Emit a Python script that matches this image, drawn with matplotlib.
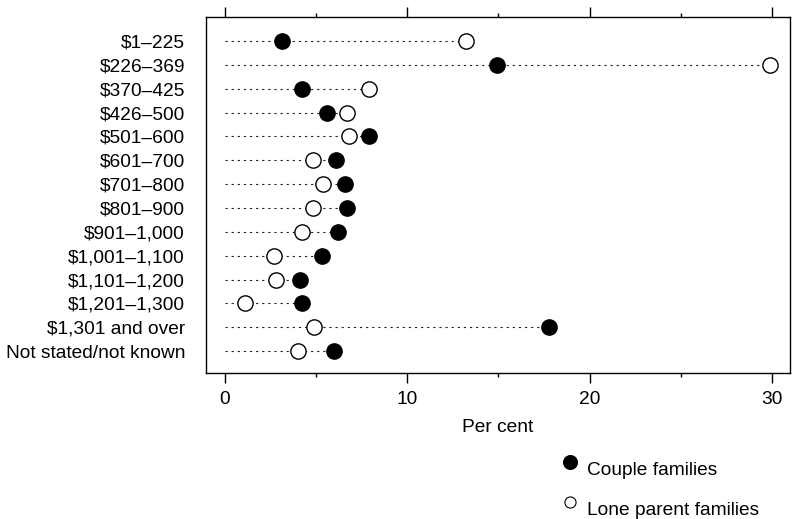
import numpy as np
import matplotlib.pyplot as plt
from matplotlib.lines import Line2D

plt.rcParams['font.family'] = ['Liberation Sans', 'DejaVu Sans']

categories = ["$1\u2013225", "$226\u2013369", "$370\u2013425", "$426\u2013500", "$501\u2013600",
              "$601\u2013700", "$701\u2013800", "$801\u2013900", "$901\u20131,000",
              "$1,001\u20131,100", "$1,101\u20131,200", "$1,201\u20131,300",
              "$1,301 and over", "Not stated/not known"]
couple = [3.1, 14.9, 4.2, 5.6, 7.9, 6.1, 6.6, 6.7, 6.2, 5.3, 4.1, 4.2, 17.8, 6.0]
lone_parent = [13.2, 29.9, 7.9, 6.7, 6.8, 4.8, 5.4, 4.8, 4.2, 2.7, 2.8, 1.1, 4.9, 4.0]
legend_labels = ["Couple families", "Lone parent families"]

FS = 13.8

fig = plt.figure(figsize=(7.92, 5.19), dpi=100)
ax = fig.add_axes([0.260, 0.281, 0.7375, 0.686])

y = np.arange(1, len(categories) + 1)
for yi, c, l in zip(y, couple, lone_parent):
    ax.plot([0, max(c, l)], [yi, yi], color='#222222', lw=0.8,
            linestyle=(0, (2, 3.5)), zorder=1)

ax.plot(couple, y, 'o', ms=11, mfc='black', mec='black', mew=1, zorder=3)
ax.plot(lone_parent, y, 'o', ms=11, mfc='white', mec='black', mew=1, zorder=3)

ax.set_ylim(14.92, 0.0)
ax.set_xlim(-1.05, 31.0)
ax.set_yticks(y)
ax.set_yticklabels(categories, fontsize=FS)
ax.tick_params(axis='y', length=0, pad=15)

ax.set_xticks([0, 10, 20, 30])
ax.set_xticks([5, 15, 25], minor=True)
ax.tick_params(axis='x', which='major', direction='out', length=7, width=1,
               top=True, labelsize=FS, pad=6)
ax.tick_params(axis='x', which='minor', direction='out', length=3, width=1, top=True)
ax.set_xlabel("Per cent", fontsize=FS, labelpad=8)

for s in ax.spines.values():
    s.set_linewidth(1)

# key below the plot, marker sitting a little above each label
key = [dict(mfc='black', ms=10, y=0.110, ty=0.085),
       dict(mfc='white', ms=8, y=0.033, ty=0.008)]
for k, label in zip(key, legend_labels):
    fig.add_artist(Line2D([0.7197], [k['y']], marker='o', ls='none', ms=k['ms'],
                          mfc=k['mfc'], mec='black', mew=0.8,
                          transform=fig.transFigure))
    fig.text(0.741, k['ty'], label, fontsize=FS, va='baseline', ha='left')

fig.savefig("out.png", dpi=100)
